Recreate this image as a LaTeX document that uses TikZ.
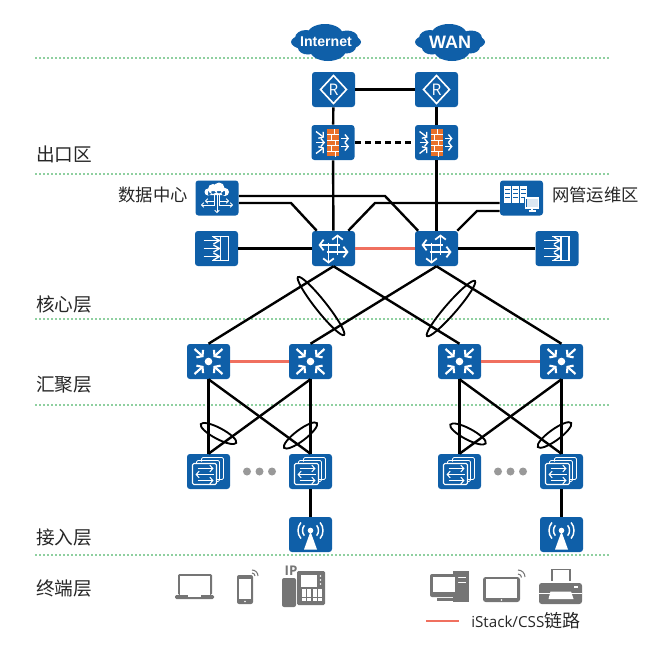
\documentclass[tikz,border=0pt]{standalone}
\usepackage{fontspec}
\setmainfont{Open Sans}
\newfontfamily\cjk{Noto Sans CJK SC}
\newfontfamily\cloudfont{Liberation Sans}
\usetikzlibrary{%
  arrows.meta%
}
\definecolor{devblue}{HTML}{0F5FA8}
\definecolor{brick}{HTML}{E8702A}
\definecolor{termgray}{HTML}{757575}
\definecolor{zonegreen}{HTML}{8FD0A0}
\definecolor{stackred}{HTML}{F0705F}
\tikzset{
  devbox/.style={fill=devblue,rounded corners=2.2pt,minimum width=32.25pt,minimum height=26.25pt,inner sep=0pt},
  linkline/.style={black,line width=1.8pt},
  stackline/.style={stackred,line width=1.6pt},
  zoneline/.style={zonegreen,line width=1.7pt,dash pattern=on 1.5pt off 1.5pt},
  ringline/.style={black,line width=1.4pt},
  zonelabel/.style={font=\cjk\fontsize{14}{16}\selectfont,text=black!85,inner sep=0pt},
  sidelabel/.style={font=\cjk\fontsize{13}{15}\selectfont,text=black!85,inner sep=0pt},
  wline/.style={white,line width=1pt},
  wtip/.style={wline,-{Straight Barb[length=2.4pt,width=6pt]}},
  wfan/.style={white,line width=.7pt,-{Straight Barb[length=1.6pt,width=3.5pt]}},
  netcloud/.pic={
    \fill [devblue] (0,0) ellipse [x radius=35,y radius=10.5]
      (-1,-7) ellipse [x radius=18,y radius=11]
      (2,8) ellipse [x radius=18,y radius=11]
      (-20,-4) ellipse [x radius=11,y radius=8]
      (21,-4) ellipse [x radius=11,y radius=7.5]
      (-18,6) ellipse [x radius=10,y radius=6.5]
      (20,5) ellipse [x radius=10,y radius=6.5];
  },
  routerglyph/.pic={
    \draw [white,line width=1.2pt] (-13,0) -- (0,-14) -- (13,0) -- (0,14) -- cycle;
    \node (-r) [white,inner sep=0pt,font=\fontsize{12}{12}\selectfont] at (0,0) {R};
  },
  wallglyph/.pic={
    \fill [brick] (-6,-13.5) rectangle (6,13.5);
    \foreach \y in {-8,-2.5,3,8.5} \draw [white,line width=.5pt] (-6,\y) -- (6,\y);
    \foreach \x/\y in {1/-13.5,-2/-8,2/-2.5,-2/3,2/8.5} \draw [white,line width=.5pt] (\x,\y) -- ++(0,5.5);
    \draw [wtip] (-17,-11) -- (-9,-5);
    \draw [wtip] (-17,0) -- (-8,0);
    \draw [wtip] (-17,11) -- (-9,5);
    \draw [wtip] (8,-4) -- (16,-4);
    \draw [wtip] (8,4) -- (16,4);
  },
  coreglyph/.pic={
    \draw [wline,line width=1.3pt,-{Straight Barb[length=3pt,width=8pt]}] (4,6) -- (4,-14);
    \draw [wline,line width=1.3pt,-{Straight Barb[length=3pt,width=8pt]}] (-5,-6) -- (-5,15);
    \draw [wline,line width=1.3pt,-{Straight Barb[length=3pt,width=8pt]}] (6,-3.5) -- (-15,-3.5);
    \draw [wline,line width=1.3pt,-{Straight Barb[length=3pt,width=8pt]}] (-7,3.5) -- (15,3.5);
  },
  aggglyph/.pic={
    \fill [white] (0,0) circle [radius=3.8];
    \foreach \sx/\sy in {-1/-1,1/-1,-1/1,1/1}
      \draw [white,line width=1.6pt,-{Straight Barb[length=2.8pt,width=7.5pt]}] (14*\sx,12.5*\sy) -- (5*\sx,4.5*\sy);
  },
  accessglyph/.pic={
    \draw [white,line width=.6pt,rounded corners=1pt] (-7,-10) -- (-7,-14) -- (15,-14) -- (15,8) -- (8,8);
    \draw [white,line width=.6pt,rounded corners=1pt] (-12,-8) -- (-12,-11) -- (11,-11) -- (11,10) -- (8,10);
    \draw [white,line width=.8pt,rounded corners=1pt] (-16,-8) rectangle (8,13);
    \draw [wline,line width=.8pt,-{Straight Barb[length=2.2pt,width=5pt]}] (-11,-3) -- (5,-3);
    \draw [wline,line width=.8pt,-{Straight Barb[length=2.2pt,width=5pt]}] (5,3) -- (-13,3);
    \draw [wline,line width=.8pt,-{Straight Barb[length=2.2pt,width=5pt]}] (-11,9) -- (5,9);
  },
  apglyph/.pic={
    \fill [white] (0,-3) -- (6.5,15) -- (-6.5,15) -- cycle;
    \fill [white] (0,-4) circle [radius=2.8];
    \foreach \r in {8,12.5} {
      \draw [white,line width=1.1pt] (0,-4) ++(-40:\r) arc [start angle=-40,end angle=40,radius=\r];
      \draw [white,line width=1.1pt] (0,-4) ++(140:\r) arc [start angle=140,end angle=220,radius=\r];
    }
  },
  balanceglyph/.pic={
    \draw [white,line width=1pt] (-5,-12) -- (12,-12) -- (12,12) -- (-5,12);
    \draw [white,line width=1pt] (4,-12) -- (4,12);
    \foreach \y in {-8,0,8} {
      \draw [wline] (-13,\y) -- (3,\y);
      \draw [wline] (-3,\y-3.5) -- (3,\y) -- (-3,\y+3.5);
    }
  },
  dcglyph/.pic={
    \fill [white] (-9,-6) circle [radius=3.5] (-4,-9) circle [radius=5] (2,-10) circle [radius=5.5]
      (8,-6) circle [radius=4] (-9,-7) rectangle (8,-3);
    \foreach \x in {-2.5,0,2.5} \draw [white,line width=.6pt] (\x,-3) -- (\x,3);
    \draw [wfan] (-2.5,3) -- (-2.5,7) -- (-16,7);
    \draw [wfan] (2.5,3) -- (2.5,7) -- (16,7);
    \draw [wfan] (0,3) -- (0,15);
    \draw [wfan] (-2.5,3) -- (-12,3);
    \draw [wfan] (2.5,3) -- (12,3);
  },
  nmsglyph/.pic={
    \foreach \x in {-17.5,-9.5,-1.5} {
      \fill [white] (\x,-12) rectangle (\x+7,5);
      \foreach \y in {-9,-5,-1} \draw [devblue,line width=.7pt] (\x+1,\y) -- (\x+6,\y);
    }
    \fill [devblue] (2.5,-1) rectangle (18,12);
    \draw [white,line width=.8pt] (4,0) rectangle (17,10);
    \fill [white!85!devblue] (5,1) rectangle (16,9);
    \draw [white,line width=.8pt] (10.5,10) -- (10.5,12.5) (7,13) -- (14,13);
  }
}
\begin{document}
\begin{tikzpicture}[x=.75pt,y=-.75pt]
  \useasboundingbox (0,0) rectangle (649,657);
  % zone separators
  \foreach \y in {58,174,319,405,555}
    \draw [zoneline] (35,\y) -- (609,\y);
  % clouds
  \pic at (326,42) {netcloud};
  \pic at (450,42) {netcloud};
  \node (inet) [white,inner sep=0pt,font=\cloudfont\bfseries\fontsize{10.6}{12}\selectfont] at (326,42) {Internet};
  \node (wan) [white,inner sep=0pt,font=\cloudfont\bfseries\fontsize{13.5}{15}\selectfont] at (450,42) {WAN};
  % devices
  \foreach \n/\x/\y/\g in {%
    rtrA/333.5/89.5/routerglyph,rtrB/436.5/89.5/routerglyph,
    fwA/333/142.5/wallglyph,fwB/436.5/142.5/wallglyph,
    dc/217/198/dcglyph,nms/521.5/198/nmsglyph,
    lbA/216.5/248.5/balanceglyph,lbB/557/248.5/balanceglyph,
    coreA/333.5/248.5/coreglyph,coreB/436.5/248.5/coreglyph,
    aggA/208.5/361.5/aggglyph,aggB/310.5/361.5/aggglyph,
    aggC/459.5/361.5/aggglyph,aggD/561.5/361.5/aggglyph,
    accA/208.5/471.5/accessglyph,accB/310.5/471.5/accessglyph,
    accC/459.5/471.5/accessglyph,accD/561.5/471.5/accessglyph,
    apA/310.5/534.5/apglyph,apB/561.5/534.5/apglyph} {
    \node (\n) [devbox] at (\x,\y) {};
    \pic (\n icon) at (\n) {\g};
  }
  % uplinks
  \draw [linkline] (rtrA) -- (rtrB);
  \draw [linkline] (rtrA) -- (fwA);
  \draw [linkline] (rtrB) -- (fwB);
  \draw [linkline,dash pattern=on 5pt off 2.5pt] (fwA) -- (fwB);
  \draw [linkline] (fwA) -- (coreA);
  \draw [linkline] (fwB) -- (coreB);
  \draw [linkline] (lbA) -- (coreA);
  \draw [linkline] (coreB) -- (lbB);
  % data centre and management links
  \coordinate (bendA) at (385,196);
  \coordinate (bendB) at (291,203);
  \coordinate (bendC) at (375,203);
  \coordinate (bendD) at (477,211);
  \draw [linkline] (dc.east |- bendA) -- (bendA) -- ([xshift=2.5pt]coreB.north west);
  \draw [linkline] (dc.east |- bendB) -- (bendB) -- ([xshift=3.75pt]coreA.north west);
  \draw [linkline] (nms.west |- bendC) -- (bendC) -- ([xshift=-5.25pt]coreA.north east);
  \draw [linkline] (nms.west |- bendD) -- (bendD) -- ([xshift=-.75pt]coreB.north east);
  % core to aggregation, aggregation to access
  \foreach \a/\b in {coreA/aggA,coreA/aggC,coreB/aggB,coreB/aggD,
      aggA/accA,aggA/accB,aggB/accA,aggB/accB,
      aggC/accC,aggC/accD,aggD/accC,aggD/accD}
    \draw [linkline] (\a.south) -- (\b.north);
  \draw [linkline] (accB) -- (apA);
  \draw [linkline] (accD) -- (apB);
  % stack links
  \draw [stackline] (coreA) -- (coreB);
  \draw [stackline] (aggA) -- (aggB);
  \draw [stackline] (aggC) -- (aggD);
  % link bundles
  \foreach \x/\y/\a/\r in {321/306/-51.6/37,451/308.5/49/36.5,
      218.5/433.5/-28/20,300.5/435.5/37/20.5,468/434/-28/20,554.5/435/36/20.5}
    \draw [ringline,shift={(\x,\y)},rotate=\a] (0,0) ellipse [x radius=\r,y radius=5.5];
  \foreach \x in {247,259.5,272,498,510.5,523}
    \fill [black!40] (\x,471.5) circle [radius=4];
  % labels
  \node (zoneA) [zonelabel,anchor=west] at (36,154) {出口区};
  \node (zoneB) [zonelabel,anchor=west] at (36,304) {核心层};
  \node (zoneC) [zonelabel,anchor=west] at (36,385) {汇聚层};
  \node (zoneD) [zonelabel,anchor=west] at (36,537) {接入层};
  \node (zoneE) [zonelabel,anchor=west] at (36,588) {终端层};
  \node (dclabel) [sidelabel,anchor=east] at (188,195) {数据中心};
  \node (nmslabel) [sidelabel,anchor=west] at (552,195) {网管运维区};
  % terminals
  \begin{scope}[termgray]
    % laptop
    \fill [rounded corners=1pt] (178,574) rectangle (212,595);
    \fill [white] (180,576) rectangle (210,595);
    \fill [rounded corners=1pt] (175,595) rectangle (214,599);
    \fill [white] (188,595) rectangle (201,597);
    % phone
    \fill [rounded corners=1.5pt] (237,575) rectangle (253,604);
    \fill [white] (239,579) rectangle (251,599);
    \fill [white] (245,601.5) circle [radius=.8];
    \draw [line width=.8pt] (252,570) arc [start angle=-90,end angle=0,radius=6];
    \draw [line width=.8pt] (252,573) arc [start angle=-90,end angle=0,radius=3];
    % desk phone
    \node (ipmark) [termgray,inner sep=0pt,font=\bfseries\fontsize{10}{10}\selectfont] at (291,571) {IP};
    \fill [rounded corners=1.5pt] (282,578) rectangle (296,607);
    \fill [rounded corners=1pt] (297,571) rectangle (325,605);
    \fill [white] (301,575) rectangle (317,587);
    \foreach \x in {0,5.3,10.6,15.9} \foreach \y in {0,4.4,8.8}
      \fill [white] (302+\x,589+\y) rectangle (306+\x,592.5+\y);
    \foreach \y in {576,580,584} \fill [white] (320.5,\y) circle [radius=.9];
    % desktop
    \fill (453,571) rectangle (469,602);
    \foreach \y in {577,582} \fill [white] (457,\y) rectangle (466,\y+1);
    \fill [white] (451,572) rectangle (453,603);
    \fill [rounded corners=1.5pt] (430,574) rectangle (458,597);
    \fill [white] (433,577) rectangle (455,592);
    \fill (437,598) rectangle (453,601);
    % tablet
    \fill [rounded corners=2pt] (483,577) rectangle (520,602);
    \fill [white] (486,579) rectangle (517,598);
    \fill [white] (501.5,600) circle [radius=.8];
    \draw [line width=.8pt] (518,570) arc [start angle=-90,end angle=0,radius=7];
    \draw [line width=.8pt] (518,574) arc [start angle=-90,end angle=0,radius=3.5];
    % printer
    \draw [line width=1pt] (552,581) -- (552,569.5) -- (570,569.5) -- (570,581);
    \fill [rounded corners=2pt] (539,583) rectangle (582,604);
    \fill [white] (539,592.5) rectangle (582,594);
    \fill [white] (550.5,591.5) -- (571,591.5) -- (573.5,599) -- (548.5,599) -- cycle;
    \fill [white] (574,586) rectangle (578,587.5);
  \end{scope}
  % legend
  \coordinate (legA) at (426,621);
  \coordinate (legB) at (459,621);
  \draw [stackline] (legA) -- (legB);
  \node (legtext) [anchor=west,inner sep=0pt,text=black!85,font=\fontsize{11.4}{13}\selectfont] at (471,621) {iStack/CSS{\cjk\fontsize{13.5}{15}\selectfont 链路}};
\end{tikzpicture}
\end{document}
